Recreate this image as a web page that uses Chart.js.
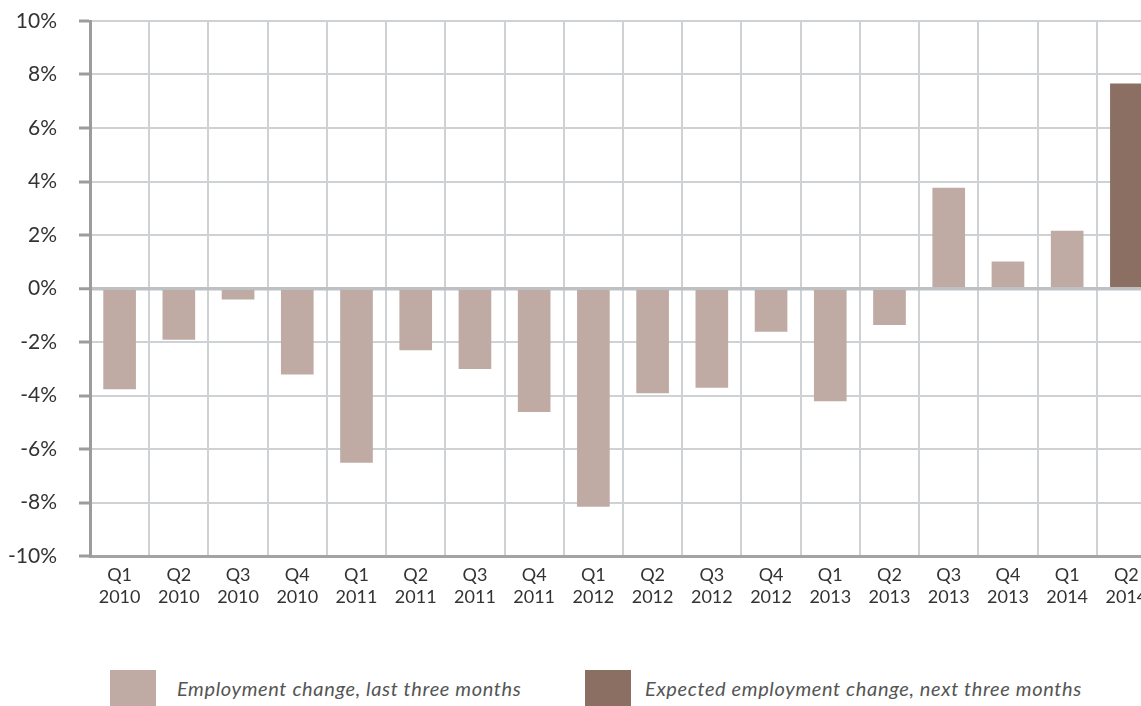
<!DOCTYPE html>
<html>
<head>
<meta charset="utf-8">
<script src="https://cdn.jsdelivr.net/npm/chart.js@4.4.1/dist/chart.umd.min.js"></script>
<style>
  html, body { margin: 0; padding: 0; background: #fff; overflow: hidden; width: 1141px; height: 706px; }
  #wrap { position: absolute; left: 0; top: 0; width: 1160px; height: 630px; }
  #legend { position: absolute; top: 670px; left: 0; width: 1141px; height: 36px;
            font-family: Lato, "Open Sans", sans-serif; font-style: italic; font-size: 20px;
            letter-spacing: 0.63px; color: #555; }
  .item { position: absolute; top: 0; height: 36px; display: flex; align-items: center; white-space: nowrap; }
  .swatch { width: 46px; height: 36px; flex: none; }
</style>
</head>
<body>
<div id="wrap"><canvas id="c" width="1160" height="630"></canvas></div>
<div id="legend"></div>
<script>
// Quarter / year tick labels
const quarters = ['Q1','Q2','Q3','Q4','Q1','Q2','Q3','Q4','Q1','Q2','Q3','Q4','Q1','Q2','Q3','Q4','Q1','Q2'];
const years    = ['2010','2010','2010','2010','2011','2011','2011','2011','2012','2012','2012','2012','2013','2013','2013','2013','2014','2014'];

// Employment change (%), last three months
const actualChange   = [-3.75, -1.9, -0.4, -3.2, -6.5, -2.3, -3.0, -4.6, -8.15, -3.9, -3.7, -1.6, -4.2, -1.35, 3.75, 1.0, 2.15, null];
// Expected employment change (%), next three months
const expectedChange = [null, null, null, null, null, null, null, null, null, null, null, null, null, null, null, null, null, 7.65];

const seriesNames  = ['Employment change, last three months', 'Expected employment change, next three months'];
const seriesColors = ['#bfaba4', '#8b6f63'];

// Value axis range
const yMin = -10, yMax = 10, yStep = 2;

const labels = quarters.map((q, i) => [q, years[i]]);

const GRID = '#cfd2d5';
const AXIS = '#9c9c9c';

new Chart(document.getElementById('c'), {
  type: 'bar',
  data: {
    labels,
    datasets: [
      { label: seriesNames[0], data: actualChange,   backgroundColor: seriesColors[0], barThickness: 32, grouped: false },
      { label: seriesNames[1], data: expectedChange, backgroundColor: seriesColors[1], barThickness: 32, grouped: false }
    ]
  },
  options: {
    responsive: false,
    devicePixelRatio: 1,
    animation: false,
    layout: { padding: { top: 21, left: 0, right: 4, bottom: 0 } },
    plugins: { legend: { display: false }, tooltip: { enabled: false } },
    scales: {
      x: {
        offset: true,
        grid: { color: GRID, lineWidth: 2, drawTicks: false, offset: true },
        border: { color: '#a3a3a3', width: 3 },
        ticks: {
          color: '#333', autoSkip: false, maxRotation: 0, padding: 8,
          font: { family: 'Lato, "Open Sans", sans-serif', size: 18, lineHeight: 1.22 }
        },
        afterFit: s => { s.height = 74; }
      },
      y: {
        min: yMin, max: yMax,
        grid: {
          color: c => (c.tick && c.tick.value === 0) ? '#bec1c4' : GRID,
          lineWidth: c => (c.tick && c.tick.value === 0) ? 3.5 : 2,
          tickColor: AXIS, tickWidth: 3, tickLength: 11
        },
        border: { color: AXIS, width: 3 },
        ticks: {
          stepSize: yStep, color: '#333', padding: 22,
          font: { family: 'Lato, "Open Sans", sans-serif', size: 21 },
          callback: v => v + '%'
        },
        afterFit: s => { s.width = 90; s.paddingTop = 0; s.paddingBottom = 0; }
      }
    }
  }
});

// Legend row under the chart
const legendLeft = [110, 585];
const legendGap = [21, 14];
const legend = document.getElementById('legend');
seriesNames.forEach((name, i) => {
  const item = document.createElement('div');
  item.className = 'item';
  item.style.left = legendLeft[i] + 'px';
  const sw = document.createElement('div');
  sw.className = 'swatch';
  sw.style.background = seriesColors[i];
  sw.style.marginRight = legendGap[i] + 'px';
  const tx = document.createElement('span');
  tx.textContent = name;
  item.appendChild(sw);
  item.appendChild(tx);
  legend.appendChild(item);
});
</script>
</body>
</html>
